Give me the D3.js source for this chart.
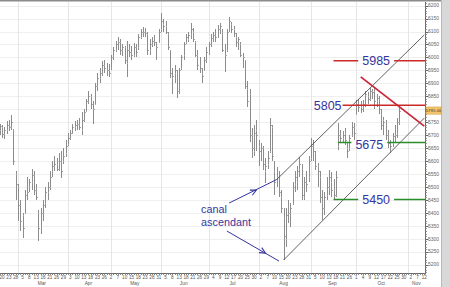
<!DOCTYPE html>
<html><head><meta charset="utf-8">
<script src="https://cdn.jsdelivr.net/npm/d3@7"></script>
<style>html,body{margin:0;padding:0;background:#fff;overflow:hidden}svg{display:block}</style>
</head><body>
<svg id="c" width="450" height="287"></svg>
<script>
// ---- Daily bars: [day, open, high, low, close] (2007) ----
const feb = [[19,5720,5745,5700,5735],[20,5730,5740,5690,5705],[21,5705,5730,5685,5720],[22,5720,5755,5705,5740],[23,5740,5760,5715,5730],[26,5730,5778,5720,5750],[27,5720,5725,5585,5600],[28,5550,5560,5450,5510]];
const mar = [[1,5500,5510,5370,5430],[2,5430,5450,5330,5370],[5,5390,5400,5305,5340],[6,5400,5490,5400,5470],[7,5480,5540,5450,5480],[8,5500,5530,5480,5520],[9,5520,5570,5490,5545],[12,5545,5560,5470,5490],[13,5490,5510,5450,5460],[14,5400,5410,5290,5340],[15,5350,5420,5320,5400],[16,5400,5450,5370,5430],[19,5440,5500,5420,5480],[20,5480,5520,5450,5500],[21,5500,5560,5490,5540],[22,5560,5600,5540,5580],[23,5580,5620,5560,5590],[26,5590,5610,5560,5570],[27,5570,5630,5560,5600],[28,5600,5640,5535,5560],[29,5600,5650,5590,5620],[30,5630,5680,5615,5660]];
const apr = [[2,5665,5710,5660,5690],[3,5690,5720,5680,5710],[4,5710,5745,5705,5730],[5,5730,5755,5715,5740],[10,5745,5760,5720,5745],[11,5745,5765,5720,5730],[12,5720,5790,5700,5760],[13,5760,5800,5750,5790],[16,5795,5840,5790,5830],[17,5830,5870,5820,5850],[18,5850,5860,5800,5820],[19,5800,5830,5745,5800],[20,5820,5900,5820,5890],[23,5890,5940,5870,5920],[24,5920,5960,5900,5940],[25,5940,5985,5930,5970],[26,5970,5990,5940,5960],[27,5950,5980,5930,5950],[30,5950,5975,5925,5940]];
const may = [[2,5960,6010,5950,6000],[3,6000,6040,5990,6030],[4,6030,6065,6020,6050],[7,6060,6080,6030,6060],[8,6060,6070,6010,6030],[9,6030,6050,6005,6040],[10,6040,6045,5975,5990],[11,5980,6065,5925,6030],[14,6030,6050,6000,6020],[15,6020,6045,5990,6010],[16,6010,6055,6000,6040],[17,6040,6050,6000,6020],[18,6040,6090,6030,6080],[21,6080,6110,6070,6100],[22,6100,6118,6080,6100],[23,6100,6115,6080,6095],[24,6090,6100,6010,6030],[25,6030,6070,6010,6050],[28,6050,6080,6040,6065],[29,6065,6085,6045,6060],[30,6040,6060,5990,6040],[31,6060,6110,6060,6100]];
const jun = [[1,6110,6172,6100,6140],[4,6130,6150,6100,6120],[5,6120,6140,6090,6100],[6,6090,6100,6030,6040],[7,6030,6030,5920,5940],[8,5920,5960,5860,5930],[11,5940,5970,5900,5950],[12,5940,5950,5845,5870],[13,5870,5960,5860,5950],[14,5960,6010,5950,6000],[15,6010,6060,5990,6050],[18,6060,6090,6050,6080],[19,6070,6100,6060,6085],[20,6090,6133,6070,6110],[21,6100,6115,6060,6070],[22,6060,6065,6000,6010],[25,6010,6030,5950,5970],[26,5970,6000,5940,5960],[27,5940,5960,5900,5930],[28,5950,6000,5950,5990],[29,5990,6040,5980,6020]];
const jul = [[2,6020,6060,6010,6050],[3,6050,6090,6040,6075],[4,6075,6100,6060,6085],[5,6085,6110,6060,6080],[6,6080,6125,6075,6110],[9,6110,6133,6090,6120],[10,6100,6110,6020,6030],[11,6010,6050,5945,6010],[12,6030,6110,6020,6100],[13,6110,6156,6100,6140],[16,6130,6135,6095,6110],[17,6110,6120,6080,6095],[18,6080,6095,6040,6060],[19,6060,6080,6030,6070],[20,6050,6060,6000,6010],[23,6000,6017,5960,6000],[24,5990,5990,5880,5890],[25,5880,5910,5810,5830],[26,5860,5880,5674,5700],[27,5700,5728,5612,5650],[30,5640,5740,5620,5710],[31,5720,5760,5640,5700]];
const aug = [[1,5660,5680,5580,5640],[2,5630,5670,5600,5650],[3,5650,5660,5566,5590],[6,5560,5610,5515,5580],[7,5590,5640,5570,5610],[8,5640,5766,5630,5740],[9,5730,5740,5600,5620],[10,5560,5600,5470,5520],[13,5540,5577,5500,5540],[14,5540,5560,5460,5480],[15,5460,5490,5400,5420],[16,5380,5420,5218,5310],[17,5300,5420,5270,5390],[20,5400,5450,5360,5400],[21,5400,5440,5345,5420],[22,5440,5520,5430,5500],[23,5510,5560,5480,5540],[24,5520,5580,5490,5560],[27,5570,5616,5540,5590],[28,5570,5590,5450,5470],[29,5460,5540,5450,5520],[30,5520,5560,5480,5510],[31,5540,5620,5520,5600]];
const sep = [[3,5610,5689,5600,5660],[4,5660,5681,5600,5640],[5,5630,5640,5566,5580],[6,5580,5593,5500,5560],[7,5540,5560,5440,5460],[10,5440,5488,5372,5420],[11,5420,5480,5390,5460],[12,5470,5540,5450,5500],[13,5500,5566,5470,5540],[14,5520,5558,5461,5490],[17,5490,5530,5450,5470],[18,5470,5560,5460,5540],[19,5660,5747,5643,5700],[20,5700,5720,5670,5690],[21,5690,5715,5670,5700],[24,5710,5728,5662,5680],[25,5650,5670,5612,5640],[26,5650,5700,5640,5690],[27,5700,5751,5693,5730],[28,5730,5747,5680,5710]];
const oct = [[1,5780,5836,5778,5820],[2,5820,5840,5790,5810],[3,5810,5830,5785,5800],[4,5800,5835,5790,5820],[5,5820,5870,5810,5860],[8,5850,5865,5820,5840],[9,5840,5882,5830,5870],[10,5870,5880,5840,5865],[11,5870,5885,5800,5830],[12,5830,5860,5810,5845],[15,5840,5850,5780,5800],[16,5780,5800,5720,5740],[17,5760,5770,5700,5750],[18,5740,5760,5680,5700],[19,5700,5720,5650,5670],[22,5640,5680,5630,5660],[23,5670,5710,5655,5695],[24,5700,5740,5670,5700],[25,5710,5766,5690,5750],[26,5750,5809,5740,5795]];
// future (empty) trading days shown on the axis
const octFuture = [29,30,31];
const nov = [1,2,5,6,7,8,9,12];
const monthNames = ["Feb","Mar","Apr","May","Jun","Jul","Aug","Sep","Oct","Nov"];
const priceTicks = [5200,5250,5300,5350,5400,5450,5500,5550,5600,5650,5700,5750,5800,5850,5900,5950,6000,6050,6100,6150,6200];
// ---- Annotations ----
const levelLabels = ["5985","5805","5675","5450"];
const levelPrices = [5987,5815,5672,5452];
const levelStart  = ["2007-09-17","2007-09-21","2007-09-19","2007-09-17"];
const levelLabelAt = ["2007-10-03","2007-09-21","2007-09-28","2007-10-03"];
const lowerChannel = [["2007-08-16",5218],["2007-11-12",5766]];
const upperChannel = [["2007-08-13",5529],["2007-11-12",6087]];
const resistance   = [["2007-10-03",5925],["2007-11-12",5735]];
const arrowA = [["2007-07-13",5438],["2007-07-31",5488],["2007-08-13",5529]];
const arrowB = [["2007-07-12",5330],["2007-08-06",5245],["2007-08-14",5214]];
const canalText = ["canal","ascendant"];

// ---- build ----
const monthRows = [[1,feb],[2,mar],[3,apr],[4,may],[5,jun],[6,jul],[7,aug],[8,sep],[9,oct]];
const bars = [];
monthRows.forEach(([m,rows])=>rows.forEach(r=>bars.push({date:new Date(2007,m,r[0]),o:r[1],h:r[2],l:r[3],c:r[4]})));
const allDates = bars.map(b=>b.date).concat(octFuture.map(d=>new Date(2007,9,d)), nov.map(d=>new Date(2007,10,d)));
const key = d3.timeFormat("%Y-%m-%d");
const idx = new Map(allDates.map((d,i)=>[key(d),i]));

const RIGHT = 425.5, TOP = 2, BOTTOM = 273.5;
const x = d3.scaleLinear().domain([0, allDates.length-1]).range([-0.16, 424.3]);
const y = d3.scaleLinear().domain([5168, 6214]).range([273, 2]);
const X = s => x(idx.get(s));

const svg = d3.select("#c");
svg.append("rect").attr("width",450).attr("height",287).attr("fill","#fff");
svg.append("defs").append("clipPath").attr("id","clip").append("rect")
  .attr("x",0).attr("y",TOP).attr("width",RIGHT).attr("height",BOTTOM-TOP);

const plot = svg.append("g").attr("clip-path","url(#clip)");
plot.selectAll("line.hg").data(priceTicks).join("line")
  .attr("x1",0).attr("x2",RIGHT)
  .attr("y1",d=>Math.round(y(d))+0.5).attr("y2",d=>Math.round(y(d))+0.5)
  .attr("stroke","#efefef").attr("stroke-width",1);
const monthStartIdx = allDates.map((d,i)=>i).filter(i=>i>0 && allDates[i].getMonth()!==allDates[i-1].getMonth());
plot.selectAll("line.vg").data(monthStartIdx).join("line")
  .attr("x1",i=>Math.round(x(i))+0.5).attr("x2",i=>Math.round(x(i))+0.5)
  .attr("y1",TOP).attr("y2",BOTTOM)
  .attr("stroke","#e6e6e6").attr("stroke-width",1);

// OHLC bars
const bg = plot.append("g").attr("stroke","#8c8c8c").attr("stroke-width",1).attr("shape-rendering","crispEdges");
bg.selectAll("line.hl").data(bars).join("line")
  .attr("x1",(d,i)=>Math.round(x(i))+0.5).attr("x2",(d,i)=>Math.round(x(i))+0.5)
  .attr("y1",d=>y(d.h)).attr("y2",d=>y(d.l));
bg.selectAll("line.op").data(bars).join("line")
  .attr("stroke","#a8a8a8")
  .attr("x1",(d,i)=>Math.round(x(i))-0.5).attr("x2",(d,i)=>Math.round(x(i))+0.5)
  .attr("y1",d=>Math.round(y(d.o))+0.5).attr("y2",d=>Math.round(y(d.o))+0.5);
bg.selectAll("line.cl").data(bars).join("line")
  .attr("stroke","#a8a8a8")
  .attr("x1",(d,i)=>Math.round(x(i))+0.5).attr("x2",(d,i)=>Math.round(x(i))+1.5)
  .attr("y1",d=>Math.round(y(d.c))+0.5).attr("y2",d=>Math.round(y(d.c))+0.5);

// channel lines
const ann = svg.append("g").attr("clip-path","url(#clip)");
[lowerChannel, upperChannel].forEach(seg=>{
  ann.append("line").attr("x1",X(seg[0][0])).attr("y1",y(seg[0][1]))
    .attr("x2",X(seg[1][0])).attr("y2",y(seg[1][1]))
    .attr("stroke","#3a3a3a").attr("stroke-width",0.8);
});
ann.append("line").attr("x1",X(resistance[0][0])).attr("y1",y(resistance[0][1]))
  .attr("x2",X(resistance[1][0])).attr("y2",y(resistance[1][1]))
  .attr("stroke","#c8283a").attr("stroke-width",1.8);

// levels
const blue = "#3535a0";
const font = "'Liberation Sans', Arial, sans-serif";
levelLabels.forEach((lab,k)=>{
  const col = k<2 ? "#cc2a2a" : "#2a8c2a";
  const yy = y(levelPrices[k]);
  const xs = X(levelStart[k]);
  const xe = RIGHT;
  const isLeft = (levelLabelAt[k]===levelStart[k]);
  const t = svg.append("text").text(lab)
    .attr("font-family",font).attr("font-size",12.5).attr("fill",blue)
    .attr("y",yy+4.5+(k===2?2.5:0));
  if(isLeft){
    t.attr("x",xs-1).attr("text-anchor","end");
    ann.append("line").attr("x1",xs).attr("x2",xe).attr("y1",yy).attr("y2",yy)
      .attr("stroke",col).attr("stroke-width",1.5);
  } else {
    const lx = X(levelLabelAt[k])+1.5;
    t.attr("x",lx).attr("text-anchor","start");
    const bb = t.node().getBBox();
    ann.append("line").attr("x1",xs).attr("x2",bb.x-4).attr("y1",yy).attr("y2",yy)
      .attr("stroke",col).attr("stroke-width",1.5);
    ann.append("line").attr("x1",bb.x+bb.width+4).attr("x2",xe).attr("y1",yy).attr("y2",yy)
      .attr("stroke",col).attr("stroke-width",1.5);
  }
});

// arrows
function arrow(pts){
  const p = pts.map(q=>[X(q[0]), y(q[1])]);
  svg.append("line").attr("x1",p[0][0]).attr("y1",p[0][1]).attr("x2",p[2][0]).attr("y2",p[2][1])
    .attr("stroke",blue).attr("stroke-width",1);
  const a = Math.atan2(p[2][1]-p[0][1], p[2][0]-p[0][0]);
  const L = 6.5, sp = 0.45;
  const hx = p[1][0], hy = p[1][1];
  svg.append("path")
    .attr("d",`M${hx-L*Math.cos(a-sp)},${hy-L*Math.sin(a-sp)}L${hx},${hy}L${hx-L*Math.cos(a+sp)},${hy-L*Math.sin(a+sp)}`)
    .attr("fill","none").attr("stroke",blue).attr("stroke-width",1.1);
}
arrow(arrowA); arrow(arrowB);
canalText.forEach((s,k)=>svg.append("text").attr("font-family",font).attr("font-size",10.8).attr("fill",blue)
  .attr("x",X(arrowA[0][0])-28).attr("y",y(arrowA[0][1])+10+k*12.6).text(s));

// frame
svg.append("rect").attr("x",0).attr("y",0).attr("width",441).attr("height",1.5).attr("fill","#8c8c8c");
svg.append("rect").attr("x",441).attr("y",0).attr("width",9).attr("height",287).attr("fill","#d8d8d8");
svg.append("line").attr("x1",441.5).attr("x2",441.5).attr("y1",0).attr("y2",287).attr("stroke","#b8b8b8");

// right price axis
const last = bars[bars.length-1];
const ax = svg.append("g");
ax.append("line").attr("x1",RIGHT).attr("x2",RIGHT).attr("y1",TOP).attr("y2",BOTTOM+1).attr("stroke","#666").attr("stroke-width",1);
const minor = d3.range(5170, 6214, 10);
ax.selectAll("line.mt").data(minor).join("line")
  .attr("x1",RIGHT).attr("x2",RIGHT+1.5).attr("y1",d=>Math.round(y(d))+0.5).attr("y2",d=>Math.round(y(d))+0.5)
  .attr("stroke","#999");
ax.selectAll("line.Mt").data(priceTicks).join("line")
  .attr("x1",RIGHT).attr("x2",RIGHT+3).attr("y1",d=>Math.round(y(d))+0.5).attr("y2",d=>Math.round(y(d))+0.5)
  .attr("stroke","#666");
ax.selectAll("text.pl").data(priceTicks.filter(d=>Math.abs(y(d)-y(last.c))>5)).join("text")
  .attr("x",428).attr("y",d=>y(d)+1.7).text(d=>d)
  .attr("font-family",font).attr("font-size",5).attr("fill","#666");
ax.append("rect").attr("x",426).attr("y",y(last.c)-3.6).attr("width",15).attr("height",7.2)
  .attr("fill","#f3c56c").attr("stroke","#d39a33").attr("stroke-width",0.5);
ax.append("text").attr("x",433.5).attr("y",y(last.c)+1.5).attr("text-anchor","middle")
  .attr("font-family",font).attr("font-size",4.3).attr("fill","#333").text(last.c.toFixed(2));

// bottom date axis
const bx = svg.append("g");
bx.append("line").attr("x1",0).attr("x2",RIGHT).attr("y1",BOTTOM).attr("y2",BOTTOM).attr("stroke","#666");
bx.selectAll("line.dt").data(allDates).join("line")
  .attr("x1",(d,i)=>Math.round(x(i))+0.5).attr("x2",(d,i)=>Math.round(x(i))+0.5)
  .attr("y1",BOTTOM).attr("y2",BOTTOM+1.5).attr("stroke","#888");
const labelIdx = allDates.map((d,i)=>i).filter(i=>i%3===1);
bx.selectAll("text.dl").data(labelIdx).join("text")
  .attr("x",i=>x(i)).attr("y",279).attr("text-anchor","middle").text(i=>allDates[i].getDate())
  .attr("font-family",font).attr("font-size",4.6).attr("fill","#555");
const byMonth = d3.groups(allDates.map((d,i)=>({m:d.getMonth(),i})), o=>o.m).filter(g=>g[0]>1);
bx.selectAll("text.ml").data(byMonth).join("text")
  .attr("x",g=>x((g[1][0].i+g[1][g[1].length-1].i)/2)).attr("y",284.5).attr("text-anchor","middle")
  .text(g=>monthNames[g[0]-1])
  .attr("font-family",font).attr("font-size",4.8).attr("fill","#555");
</script>
</body></html>
